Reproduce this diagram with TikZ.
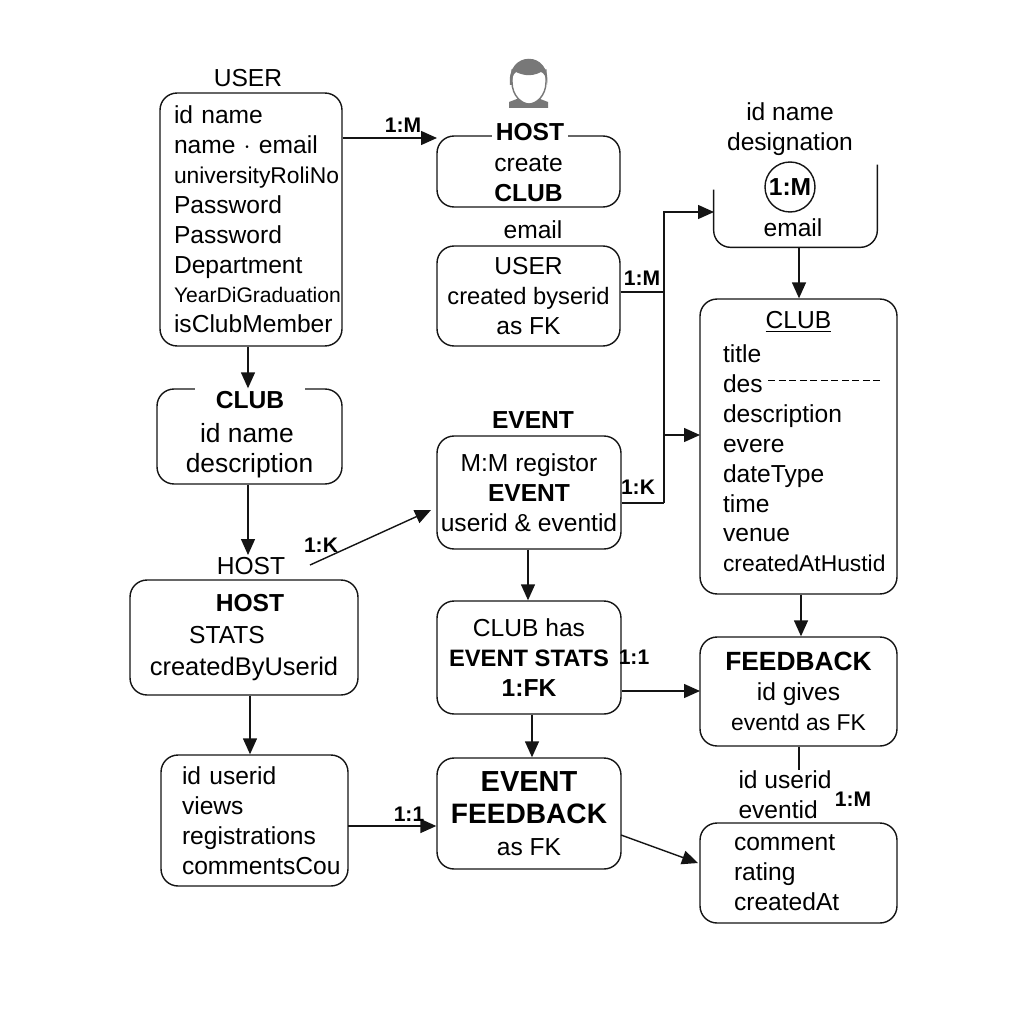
\documentclass[tikz,border=0pt]{standalone}
\usepackage{fontspec}
\setmainfont{Liberation Sans}
\usepackage{xcolor}
\usepackage{tikz}
\usetikzlibrary{arrows.meta, positioning, calc}
\definecolor{mydark}{RGB}{20,20,20}
\definecolor{myhair}{RGB}{120,120,120}
\tikzset{
  box/.style={rectangle, draw=mydark, fill=white, align=center, rounded corners=0.34cm,
    line width=0.8pt, inner sep=0pt, font=\fontsize{14}{17}\selectfont},
  listbox/.style={box, align=left},
  txt/.style={inner sep=0pt, align=center, font=\fontsize{14}{17}\selectfont},
  title/.style={txt, fill=white, inner xsep=2pt},
  ratio/.style={inner sep=0pt, font=\fontsize{12}{14}\selectfont\bfseries},
  arrow/.style={-{Triangle[length=0.32cm,width=0.28cm]}, line width=0.8pt, color=mydark},
  line/.style={line width=0.8pt, color=mydark}
}
\begin{document}
\begin{tikzpicture}[x=0.02cm, y=-0.02cm]
  \useasboundingbox (0,0) rectangle (1024,1024);

  % Left column
  \node[txt] (usertitle) at (248,78) {USER};
  \node[listbox, minimum width=3.64cm, minimum height=5.06cm, text width=3.08cm] (user) at (251,219.5)
    {id name\\name $\cdot$ email\\{\fontsize{13}{17}\selectfont universityRoliNo}\\Password\\Password\\Department\\{\fontsize{12}{17}\selectfont YearDiGraduation}\\isClubMember};
  \node[box, minimum width=3.7cm, minimum height=1.9cm, font=\fontsize{15}{17}\selectfont] (clubinfo) at (249.5,436.5)
    {\phantom{X}\\[-0.02cm]\mbox{id name\hspace{0.1cm}}\\description};
  \node[title, minimum width=2.2cm, minimum height=0.5cm] (clubinfotitle) at (250,400) {\textbf{CLUB}};
  \node[txt] (hosttitle) at (251,566) {HOST};
  \node[box, minimum width=4.56cm, minimum height=2.3cm] (hoststats) at (244,637.5)
    {\rule{0pt}{0.22cm}\mbox{\hspace{0.24cm}\textbf{HOST}}\\[0.05cm]\mbox{STATS\hspace{0.68cm}}\\[0.05cm]{\fontsize{14.5}{17}\selectfont createdByUserid}};
  \node[listbox, minimum width=3.74cm, minimum height=2.62cm, text width=2.9cm] (stats) at (254.5,820.5)
    {id userid\\views\\registrations\\commentsCou};

  % Middle column
  \node[box, minimum width=3.66cm, minimum height=1.42cm] (host) at (528.5,171.5)
    {\phantom{X}\\[-0.34cm]create\\\textbf{CLUB}};
  \node[title] (hostlabel) at (530,132) {\textbf{HOST}};
  \node[txt] (emailtop) at (533,230) {email};
  \node[box, minimum width=3.66cm, minimum height=2cm] (creator) at (528.5,296)
    {\rule{0pt}{0.2cm}USER\\{\fontsize{13.5}{17}\selectfont created byserid}\\as FK};
  \node[txt] (eventtitle) at (533,420) {\textbf{EVENT}};
  \node[box, minimum width=3.68cm, minimum height=2.26cm] (event) at (529,492.5)
    {\rule{0pt}{0.2cm}M:M registor\\\textbf{EVENT}\\userid \& eventid};
  \node[box, minimum width=3.68cm, minimum height=2.26cm] (clubhas) at (529,657.5)
    {\rule{0pt}{0.2cm}CLUB has\\{\fontsize{13.5}{17}\selectfont\textbf{EVENT STATS}}\\\textbf{1:FK}};
  \node[box, minimum width=3.68cm, minimum height=2.22cm] (eventfb) at (529,813.5)
    {{\fontsize{16.5}{18}\selectfont\textbf{EVENT}}\\[0.04cm]{\fontsize{16}{18}\selectfont\textbf{FEEDBACK}}\\[0.04cm]as FK};

  % Right column
  \node[txt] (desig) at (790,129) {id name\\designation};
  \node[minimum width=3.26cm, minimum height=1.64cm, inner sep=0pt] (openbox) at (795.5,206) {};
  \node[circle, draw=mydark, line width=0.8pt, minimum size=1cm, inner sep=0pt,
    font=\fontsize{14}{16}\selectfont\bfseries] (openratio) at (790,187) {1:M};
  \node[txt] (openemail) at (793,228) {email};
  \draw[line, rounded corners=0.34cm] ([yshift=-0.5cm]openbox.north west) -- (openbox.south west)
    -- (openbox.south east) -- (openbox.north east);
  \node[listbox, minimum width=3.94cm, minimum height=5.9cm, text width=3.02cm] (club) at (798.5,446.5)
    {\hfil\underline{CLUB}\hfil\\[0.09cm]title\\des\\description\\evere\\dateType\\time\\venue\\{\fontsize{13}{17}\selectfont createdAtHustid}\rule[-0.2cm]{0pt}{0pt}};
  \node[box, minimum width=3.94cm, minimum height=2.18cm] (feedback) at (798.5,691.5)
    {\rule{0pt}{0.2cm}{\fontsize{15}{17}\selectfont\textbf{FEEDBACK}}\\id gives\\{\fontsize{13}{17}\selectfont eventd as FK}};
  \node[txt, align=left] (fbkeys) at (785,795) {id userid\\eventid};
  \node[listbox, minimum width=3.94cm, minimum height=2cm, text width=2.58cm] (comment) at (798.5,873)
    {comment\\rating\\createdAt};

  % Free ends
  \coordinate (dashstart) at (768,380);
  \coordinate (dashend) at (882,380);
  \coordinate (busup) at (664,212);
  \coordinate (busclub) at (664,435);
  \coordinate (bususer) at (664,292);
  \coordinate (busevent) at (664,503);
  \coordinate (slantstart) at (310,565);
  \coordinate (slantend) at (431,510);
  \coordinate (hostin) at (437,138);
  \coordinate (clubin) at (700,435);
  \coordinate (openin) at (714,212);
  \coordinate (fbin) at (700,691);
  \coordinate (statsout) at (348,826);
  \coordinate (fbout) at (621,835);
  \coordinate (commentin) at (698,863);
  \coordinate (fbstub) at (799,770);

  % Connections
  \draw[arrow] (user.east |- hostin) -- (hostin);
  \draw[arrow] (user.south -| 248,0) -- (clubinfo.north -| 248,0);
  \draw[arrow] (clubinfo.south -| 248,0) -- (248,555);
  \draw[arrow] (slantstart) -- (slantend);
  \draw[arrow] (hoststats.south -| 250,0) -- (stats.north -| 250,0);
  \draw[arrow] (statsout) -- (eventfb.west |- statsout);
  \draw[line] (creator.east |- bususer) -- (bususer);
  \draw[line] (event.east |- busevent) -- (busevent);
  \draw[arrow] (busevent) -- (busup) -- (openin);
  \draw[arrow] (busclub) -- (clubin);
  \draw[arrow] (openbox.south -| 799,0) -- (club.north -| 799,0);
  \draw[arrow] (club.south -| 801,0) -- (feedback.north -| 801,0);
  \draw[arrow] (event.south -| 528,0) -- (clubhas.north -| 528,0);
  \draw[arrow] (clubhas.south -| 532,0) -- (eventfb.north -| 532,0);
  \draw[arrow] (clubhas.east |- fbin) -- (fbin);
  \draw[line] (feedback.south -| fbstub) -- (fbstub);
  \draw[arrow] (fbout) -- (commentin);
  \draw[line width=0.5pt, dash pattern=on 4pt off 2pt] (dashstart) -- (dashend);

  % Ratio labels
  \node[ratio] (ratioa) at (403,125) {1:M};
  \node[ratio] (ratiob) at (642,278) {1:M};
  \node[ratio] (ratioc) at (638,487) {1:K};
  \node[ratio] (ratiod) at (321,545) {1:K};
  \node[ratio] (ratioe) at (634,657) {1:1};
  \node[ratio] (ratiof) at (409,814) {1:1};
  \node[ratio] (ratiog) at (853,799) {1:M};

  % Host icon
  \fill[myhair] (509,108) -- (509,102) -- (522,97) -- (535,97) -- (548,102) -- (548,108) -- cycle;
  \draw[line width=0.8pt, color=myhair, fill=white] (512,82) .. controls (512,96) and (522,104) .. (529,104)
    .. controls (536,104) and (546,96) .. (546,82) -- (546,70) -- (512,70) -- cycle;
  \fill[myhair] (510,85) .. controls (506,50) and (552,50) .. (547,85)
    .. controls (546,76) and (544,73) .. (541,72) .. controls (530,78) and (520,74) .. (516,72)
    .. controls (513,74) and (512,78) .. (512,85) -- cycle;
\end{tikzpicture}
\end{document}
